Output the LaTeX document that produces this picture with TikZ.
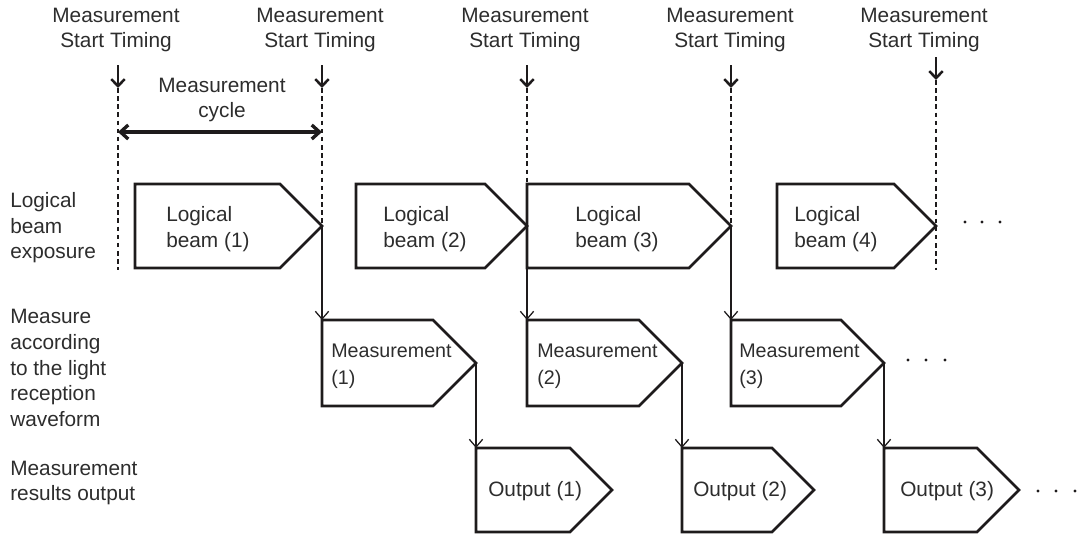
\documentclass[tikz,border=0pt]{standalone}
\usepackage{fontspec}
\setmainfont{Liberation Sans}
\usepackage{xcolor}
\usepackage{tikz}
\usetikzlibrary{arrows.meta}
\definecolor{InkDark}{RGB}{30,27,28}
\definecolor{InkGray}{RGB}{45,45,45}
\newcommand{\lblfont}{\fontsize{14.8pt}{18.2pt}\selectfont}
\newcommand{\measfont}{\fontsize{14pt}{18.9pt}\selectfont}

\begin{document}
\begin{tikzpicture}[x=0.025cm,y=-0.025cm,
  boxline/.style={draw=InkDark,line width=1.9pt,line join=miter},
  timeline/.style={InkDark,line width=0.75pt,dash pattern=on 3.2pt off 2.6pt},
  flow/.style={InkDark,line width=0.9pt,-{Straight Barb[length=5.5pt,width=9.5pt]}},
  startmark/.style={InkDark,line width=1.8pt,-{Straight Barb[length=5pt,width=9.5pt]}},
  cyclearrow/.style={InkDark,line width=2.4pt,{Straight Barb[length=5.5pt,width=10pt]}-{Straight Barb[length=5.5pt,width=10pt]}},
  txt/.style={font=\lblfont,text=InkGray,inner sep=0pt,align=left,anchor=west},
  toplbl/.style={font=\lblfont,text=InkGray,inner sep=0pt,align=center}]
  \useasboundingbox (0,0) rectangle (1081,534);

  % Start timing labels and marks
  \foreach \n/\x/\lx/\ya in {1/118/116/65,2/322/320/65,3/527/525/65,4/731/730/65,5/936/924/57} {
    \node[toplbl] (st\n) at (\lx,30) {Measurement\\Start Timing};
    \coordinate (ta\n) at (\x,\ya);
    \coordinate (tb\n) at (\x,\ya+23);
    \draw[startmark] (ta\n) -- (tb\n);
  }

  % Measurement cycle
  \node[toplbl] (cyc) at (222,100) {Measurement\\cycle};
  \coordinate (cl) at (118,132);
  \coordinate (cr) at (322,132);
  \draw[cyclearrow] (cl) -- (cr);

  % Row labels
  \node[txt] (row1) at (10,228) {Logical\\beam\\exposure};
  \node[txt] (row2) at (10,368) {Measure\\according\\to the light\\reception\\waveform};
  \node[txt] (row3) at (10,483) {Measurement\\results output};

  % Logical beam row
  \draw[boxline] (135,184) coordinate (b1-nw) -- (280,184) -- (322,226) coordinate (b1-tip) -- (280,268) -- (135,268) -- cycle;
  \node[txt] (b1) at (166,229) {Logical\\beam (1)};
  \draw[boxline] (356,184) coordinate (b2-nw) -- (485,184) -- (527,226) coordinate (b2-tip) -- (485,268) -- (356,268) -- cycle;
  \node[txt] (b2) at (383,229) {Logical\\beam (2)};
  \draw[boxline] (527,184) coordinate (b3-nw) -- (689,184) -- (731,226) coordinate (b3-tip) -- (689,268) -- (527,268) -- cycle;
  \node[txt] (b3) at (575,229) {Logical\\beam (3)};
  \draw[boxline] (777,184) coordinate (b4-nw) -- (894,184) -- (936,226) coordinate (b4-tip) -- (894,268) -- (777,268) -- cycle;
  \node[txt] (b4) at (794,229) {Logical\\beam (4)};

  % Measurement row
  \draw[boxline] (322,320) coordinate (m1-nw) -- (433,320) -- (476,363) coordinate (m1-tip) -- (433,406) -- (322,406) -- cycle;
  \node[txt,font=\measfont] (m1) at (331,366) {Measurement\\(1)};
  \draw[boxline] (527,320) coordinate (m2-nw) -- (639,320) -- (682,363) coordinate (m2-tip) -- (639,406) -- (527,406) -- cycle;
  \node[txt,font=\measfont] (m2) at (537,366) {Measurement\\(2)};
  \draw[boxline] (731,320) coordinate (m3-nw) -- (841,320) -- (884,363) coordinate (m3-tip) -- (841,406) -- (731,406) -- cycle;
  \node[txt,font=\measfont] (m3) at (739,366) {Measurement\\(3)};

  % Output row
  \draw[boxline] (476,448) coordinate (o1-nw) -- (570,448) -- (612,490) coordinate (o1-tip) -- (570,532) -- (476,532) -- cycle;
  \node[txt] (o1) at (488,491) {Output (1)};
  \draw[boxline] (682,448) coordinate (o2-nw) -- (772,448) -- (814,490) coordinate (o2-tip) -- (772,532) -- (682,532) -- cycle;
  \node[txt] (o2) at (693,491) {Output (2)};
  \draw[boxline] (884,448) coordinate (o3-nw) -- (977,448) -- (1019,490) coordinate (o3-tip) -- (977,532) -- (884,532) -- cycle;
  \node[txt] (o3) at (900,491) {Output (3)};

  % Timing lines
  \coordinate (te1) at (118,270);
  \coordinate (te5) at (936,270);
  \draw[timeline] (tb1) -- (te1);
  \draw[timeline] (tb2) -- (b1-tip);
  \draw[timeline] (tb3) -- (b3-nw);
  \draw[timeline] (tb4) -- (b3-tip);
  \draw[timeline] (tb5) -- (te5);

  % Flow between stages
  \draw[flow] (b1-tip) -- (m1-nw);
  \draw[flow] (b2-tip) -- (m2-nw);
  \draw[flow] (b3-tip) -- (m3-nw);
  \draw[flow] (m1-tip) -- (o1-nw);
  \draw[flow] (m2-tip) -- (o2-nw);
  \draw[flow] (m3-tip) -- (o3-nw);

  % Continuation dots
  \foreach \x/\y in {965/222,982/222,1000/222,908/360,926/360,945/360,1038/491,1056/491,1075/491}
    \fill[InkDark] (\x,\y) circle (1.7);
\end{tikzpicture}
\end{document}
